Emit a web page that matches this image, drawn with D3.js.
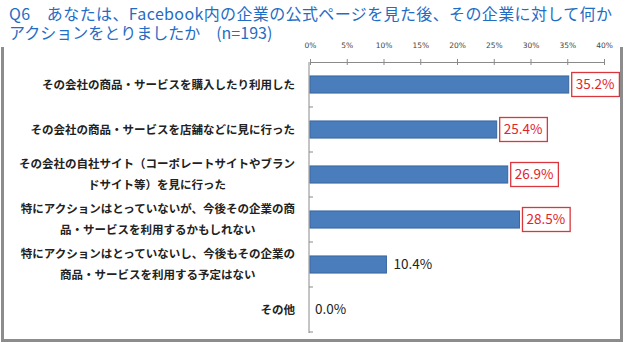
<!DOCTYPE html>
<meta charset="utf-8">
<body style="margin:0;background:#fff">
<div id="chart"></div>
<script src="https://d3js.org/d3.v7.min.js"></script>
<script>
    var titleLines = ["Q6\u3000あなたは、Facebook内の企業の公式ページを見た後、その企業に対して何か",
                      "アクションをとりましたか\u3000(n=193)"];
    var categories = [
        ["その会社の商品・サービスを購入したり利用した"],
        ["その会社の商品・サービスを店舗などに見に行った"],
        ["その会社の自社サイト（コーポレートサイトやブラン", "ドサイト等）を見に行った"],
        ["特にアクションはとっていないが、今後その企業の商", "品・サービスを利用するかもしれない"],
        ["特にアクションはとっていないし、今後もその企業の", "商品・サービスを利用する予定はない"],
        ["その他"]
    ];
    var values = [35.2, 25.4, 26.9, 28.5, 10.4, 0.0];
    var boxed = [true, true, true, true, false, false];
    var xTicks = [0, 5, 10, 15, 20, 25, 30, 35, 40];

    var width = 625, height = 342;
    var font = "'Noto Sans CJK JP', 'Noto Sans', sans-serif";

    var svg = d3.select("#chart").append("svg")
        .attr("width", width)
        .attr("height", height)
        .style("display", "block");

    // frame
    svg.append("path")
        .attr("d", "M2.5,47V340.5H621.5V47")
        .attr("fill", "none")
        .attr("stroke", "#8c8c8c")
        .attr("stroke-width", 3);

    // title
    svg.selectAll("text.title")
      .data(titleLines)
      .enter()
      .append("text")
      .attr("class", "title")
      .attr("x", 9)
      .attr("y", function(d, i){ return 20 + i * 19; })
      .attr("textLength", function(d, i){ return i == 0 ? 603 : null; })
      .attr("lengthAdjust", "spacing")
      .style("font-family", font)
      .style("font-size", "16px")
      .style("fill", "#1f6dc4")
      .text(function(d){ return d; });

    var x = d3.scaleLinear().domain([0, 40]).range([310, 604]);
    var y = d3.scaleBand().domain(d3.range(values.length))
        .range([62, 332]).paddingInner(0.62).paddingOuter(0.31);

    // top axis
    var xAxis = svg.append("g")
        .attr("transform", "translate(0,62)")
        .call(d3.axisTop(x).tickValues(xTicks).tickSizeOuter(0)
            .tickFormat(function(d){ return d + "%"; }));
    xAxis.select(".domain").attr("stroke", "#8a8a8a");
    xAxis.selectAll(".tick line").attr("y1", -3).attr("y2", 3).attr("stroke", "#8a8a8a");
    xAxis.selectAll(".tick text")
        .attr("y", -14)
        .style("font-family", "'DejaVu Sans', sans-serif")
        .style("font-size", "7.5px")
        .style("fill", "#444");

    // left axis line with band ticks
    var yStep = y.step();
    var bounds = d3.range(values.length + 1).map(function(i){ return 62 + i * yStep; });
    svg.append("line")
        .attr("x1", 309).attr("x2", 309)
        .attr("y1", 62).attr("y2", 333)
        .attr("stroke", "#8a8a8a");
    svg.selectAll("line.ytick")
      .data(bounds.slice(1))
      .enter()
      .append("line")
      .attr("class", "ytick")
      .attr("x1", 309).attr("x2", 313)
      .attr("y1", function(d){ return d; })
      .attr("y2", function(d){ return d; })
      .attr("stroke", "#8a8a8a");

    // bars
    svg.selectAll("rect.bar")
      .data(values)
      .enter()
      .append("rect")
      .attr("class", "bar")
      .attr("x", x(0))
      .attr("y", function(d, i){ return y(i); })
      .attr("width", function(d){ return x(d) - x(0); })
      .attr("height", y.bandwidth())
      .attr("fill", "#4a7dbb")
      .attr("stroke", function(d){ return d > 0 ? "#3a67a0" : "none"; });

    // category labels
    var catG = svg.selectAll("g.cat")
      .data(categories)
      .enter()
      .append("g")
      .attr("class", "cat");
    catG.each(function(lines, i) {
        var g = d3.select(this);
        var cy = y(i) + y.bandwidth() / 2;
        var t = g.selectAll("text")
          .data(lines)
          .enter()
          .append("text")
          .attr("y", function(d, j){ return cy + (j - (lines.length - 1) / 2) * 21; })
          .attr("dy", "0.36em")
          .attr("text-anchor", "middle")
          .style("font-family", font)
          .style("font-size", "11.5px")
          .style("font-weight", "bold")
          .style("fill", "#222")
          .text(function(d){ return d; });
        var maxW = 0;
        t.each(function(){ maxW = Math.max(maxW, this.getComputedTextLength()); });
        t.attr("x", 295 - maxW / 2);
    });

    // value labels
    values.forEach(function(v, i) {
        var cy = y(i) + y.bandwidth() / 2;
        var tx = v > 0 ? x(v) + 7 : x(0) + 5;
        var t = svg.append("text")
            .attr("x", tx)
            .attr("y", cy)
            .attr("dy", "0.36em")
            .style("font-family", font)
            .style("font-size", "13.5px")
            .style("fill", boxed[i] ? "#e3232b" : "#222")
            .text(v.toFixed(1) + "%");
        if (boxed[i]) {
            var w = t.node().getComputedTextLength();
            svg.insert("rect", function(){ return t.node(); })
                .attr("x", tx - 4)
                .attr("y", cy - 12)
                .attr("width", w + 9)
                .attr("height", 24)
                .attr("fill", "#fff")
                .attr("stroke", "#d9363d")
                .attr("stroke-width", 1.3);
        }
    });
</script>
</body>
